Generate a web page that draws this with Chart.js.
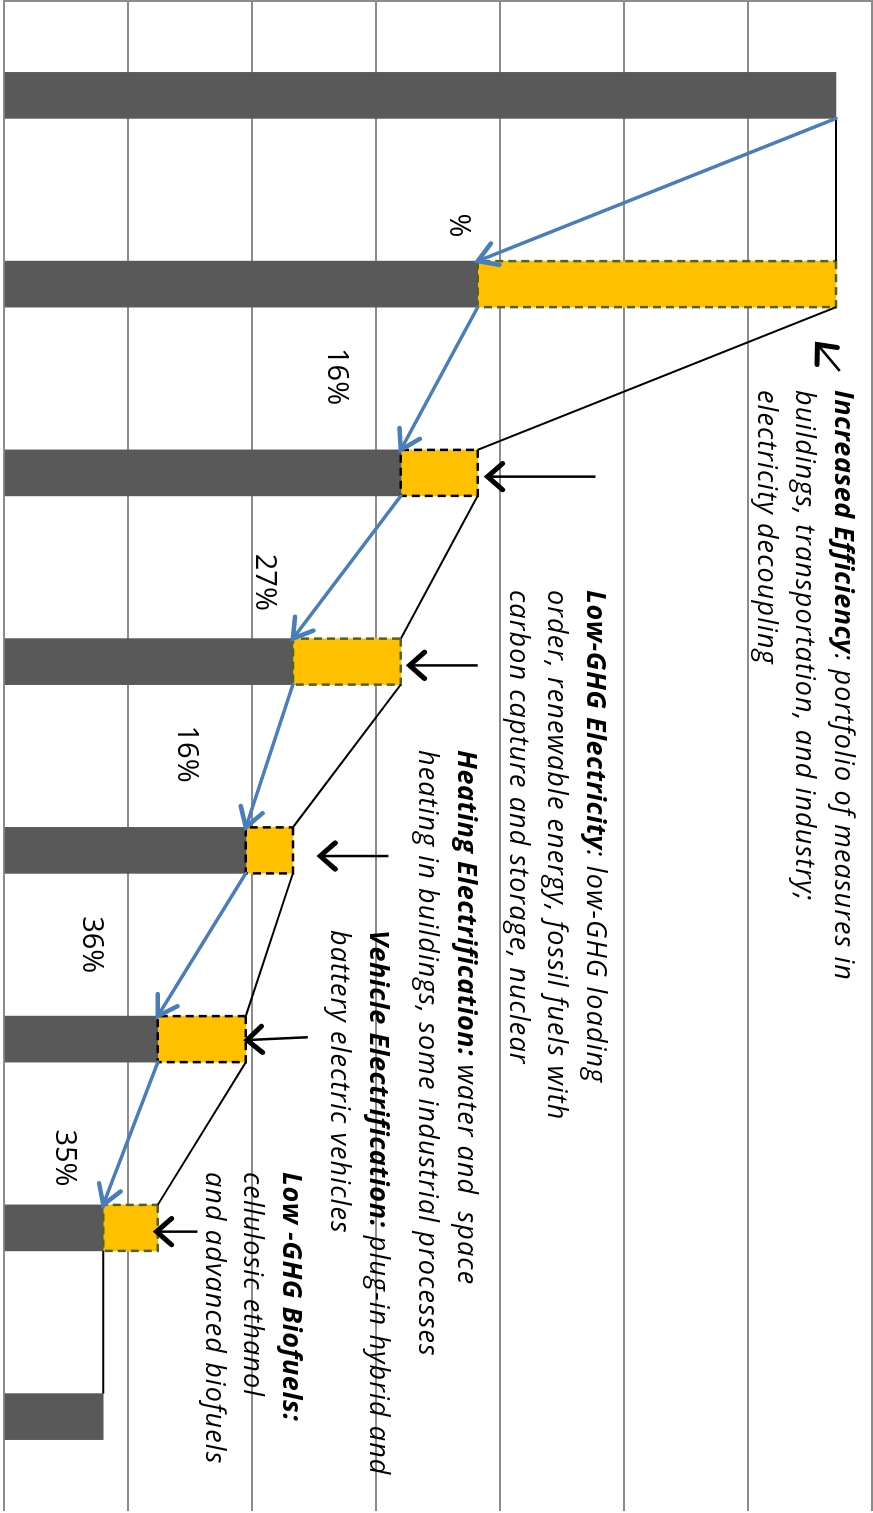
<!DOCTYPE html>
<html>
<head>
<meta charset="utf-8">
<script src="https://cdn.jsdelivr.net/npm/chart.js@4/dist/chart.umd.min.js"></script>
<style>
  html, body { margin: 0; padding: 0; background: #fff; overflow: hidden; }
  /* The waterfall is laid out left-to-right, then turned a quarter clockwise. */
  #stage {
    position: absolute; left: 0; top: 0;
    width: 1513px; height: 873px;
    transform-origin: 0 0;
    transform: translate(873px, 0) rotate(90deg);
  }
  #stage canvas { position: absolute; left: 0; top: 0; }
  .note {
    position: absolute;
    font-family: "Open Sans", sans-serif;
    font-style: italic;
    font-size: 27px;
    letter-spacing: 1.1px;
    line-height: 38.5px;
    white-space: pre;
    color: #000;
  }
  .note b { font-weight: 700; letter-spacing: 0.5px; }
  .pct {
    position: absolute;
    font-family: "Open Sans", sans-serif;
    font-size: 29px;
    white-space: pre;
    color: #000;
    transform: translate(-50%, -50%);
  }
</style>
</head>
<body>
<div id="stage">
  <canvas id="chart" width="1513" height="873"></canvas>
  <div class="note" style="left:390px; top:9px;"><b>Increased Efficiency</b>: portfolio of measures in
buildings, transportation, and industry;
electricity decoupling</div>
  <div class="note" style="left:590px; top:257px;"><b>Low-GHG Electricity</b>: low-GHG loading
order, renewable energy, fossil fuels with
carbon capture and storage, nuclear</div>
  <div class="note" style="left:750px; top:386px;"><b>Heating Electrification:</b> water and  space
heating in buildings, some industrial processes</div>
  <div class="note" style="left:930px; top:474px;"><b>Vehicle Electrification:</b> plug-in hybrid and
battery electric vehicles</div>
  <div class="note" style="left:1172px; top:561px;"><b>Low -GHG Biofuels:</b>
cellulosic ethanol
and advanced biofuels</div>
</div>
<script>
// Emission levels after each step of the waterfall
const stages = ['Reference', 'Efficiency', 'Low-GHG electricity', 'Heating electrification',
                'Vehicle electrification', 'Low-GHG biofuels', 'Further measures', 'Remaining'];
const remaining  = [6.71, 3.82, 3.20, 2.33, 1.95, 1.24, 0.80, 0.80];
const reductions = [null, 2.89, 0.62, 0.87, 0.38, 0.71, 0.44, null];
const stepLabels = ['%', '16%', '27%', '16%', '36%', '35%'];

// Where each step label sits: [category position, value position]
const stepLabelAt = [[0.69, 3.69], [1.49, 2.71], [2.58, 2.13], [3.49, 1.50], [4.50, 0.73], [5.63, 0.52]];
// Pointer arrows from the notes to the reductions: tail -> tip, [category, value]
const notePointers = [
  { from: [1.46, 6.74], to: [1.32, 6.56] },
  { from: [2.02, 4.77], to: [2.02, 3.90] },
  { from: [3.02, 3.82], to: [3.02, 3.27] },
  { from: [4.03, 3.10], to: [4.03, 2.55] },
  { from: [4.99, 2.45], to: [5.005, 1.96] },
  { from: [6.02, 1.56], to: [6.02, 1.23] }
];
// Outline colour of each reduction block
const dashColors = [null, '#4f6228', '#000000', '#4f6228', '#000000', '#000000', '#4f6228', null];

function openHead(ctx, x0, y0, x1, y1, len, spread) {
  const a = Math.atan2(y1 - y0, x1 - x0);
  ctx.beginPath();
  ctx.moveTo(x1 - len * Math.cos(a - spread), y1 - len * Math.sin(a - spread));
  ctx.lineTo(x1, y1);
  ctx.lineTo(x1 - len * Math.cos(a + spread), y1 - len * Math.sin(a + spread));
  ctx.stroke();
}

const waterfallOverlay = {
  id: 'waterfallOverlay',
  afterDatasetsDraw(chart) {
    const ctx = chart.ctx;
    const xs = chart.scales.x, ys = chart.scales.y;
    const cx = i => xs.getPixelForValue(i);
    const py = v => ys.getPixelForValue(v);
    const half = chart.getDatasetMeta(0).data[0].width / 2;

    ctx.save();
    ctx.lineCap = 'butt';
    ctx.lineJoin = 'miter';

    // dashed outlines around the reduction blocks
    chart.getDatasetMeta(1).data.forEach((bar, i) => {
      if (reductions[i] == null) return;
      const p = bar.getProps(['x', 'y', 'base', 'width'], true);
      ctx.strokeStyle = dashColors[i];
      ctx.lineWidth = 2.5;
      ctx.setLineDash([8, 5]);
      ctx.strokeRect(p.x - p.width / 2, Math.min(p.y, p.base), p.width, Math.abs(p.base - p.y));
    });
    ctx.setLineDash([]);

    // black connectors between consecutive bars
    ctx.strokeStyle = '#000';
    ctx.lineWidth = 2;
    for (let i = 0; i < remaining.length - 1; i++) {
      ctx.beginPath();
      ctx.moveTo(cx(i) + half, py(remaining[i]));
      ctx.lineTo(cx(i + 1) - half, py(remaining[i + 1]));
      ctx.stroke();
      if (reductions[i + 1] != null) {
        ctx.beginPath();
        ctx.moveTo(cx(i) + half, py(remaining[i] + (reductions[i] || 0)));
        ctx.lineTo(cx(i + 1) - half, py(remaining[i + 1] + reductions[i + 1]));
        ctx.stroke();
      }
    }

    // blue step arrows
    ctx.strokeStyle = '#4a7ebb';
    ctx.lineCap = 'round';
    for (let i = 0; i < remaining.length - 1; i++) {
      if (reductions[i + 1] == null) continue;
      const x0 = cx(i) + half, y0 = py(remaining[i]);
      const x1 = cx(i + 1) - half, y1 = py(remaining[i + 1]);
      ctx.lineWidth = 3.5;
      ctx.beginPath();
      ctx.moveTo(x0, y0);
      ctx.lineTo(x1, y1);
      ctx.stroke();
      ctx.lineWidth = 4.5;
      openHead(ctx, x0, y0, x1, y1, 22, 0.55);
    }

    // pointers from the notes
    ctx.strokeStyle = '#000';
    notePointers.forEach(a => {
      const x0 = cx(a.from[0]), y0 = py(a.from[1]);
      const x1 = cx(a.to[0]), y1 = py(a.to[1]);
      ctx.lineCap = 'butt';
      ctx.lineWidth = 2.5;
      ctx.beginPath();
      ctx.moveTo(x0, y0);
      ctx.lineTo(x1, y1);
      ctx.stroke();
      ctx.lineCap = 'round';
      ctx.lineWidth = 5;
      openHead(ctx, x0, y0, x1, y1, 20, 0.72);
    });
    ctx.restore();
  },
  afterRender(chart) {
    const stage = document.getElementById('stage');
    stage.querySelectorAll('.pct').forEach(el => el.remove());
    stepLabels.forEach((txt, k) => {
      const el = document.createElement('div');
      el.className = 'pct';
      el.textContent = txt;
      el.style.left = chart.scales.x.getPixelForValue(stepLabelAt[k][0]) + 'px';
      el.style.top = chart.scales.y.getPixelForValue(stepLabelAt[k][1]) + 'px';
      stage.appendChild(el);
    });
  }
};

new Chart(document.getElementById('chart'), {
  type: 'bar',
  data: {
    labels: stages,
    datasets: [
      { label: 'Remaining', data: remaining, backgroundColor: '#595959', borderWidth: 0, barThickness: 46 },
      { label: 'Reduction', data: reductions, backgroundColor: '#ffc000', borderWidth: 0, barThickness: 46 }
    ]
  },
  options: {
    responsive: false,
    animation: false,
    devicePixelRatio: 1,
    layout: { padding: { left: 1, right: 2, top: 1, bottom: 4 } },
    plugins: { legend: { display: false }, tooltip: { enabled: false } },
    scales: {
      x: { stacked: true, display: false },
      y: {
        stacked: true, min: 0, max: 7,
        ticks: { display: false, stepSize: 1 },
        grid: { color: '#8c8c8c', lineWidth: 2, drawTicks: false },
        border: { display: true, color: '#8c8c8c', width: 2 }
      }
    }
  },
  plugins: [waterfallOverlay]
});
</script>
</body>
</html>
